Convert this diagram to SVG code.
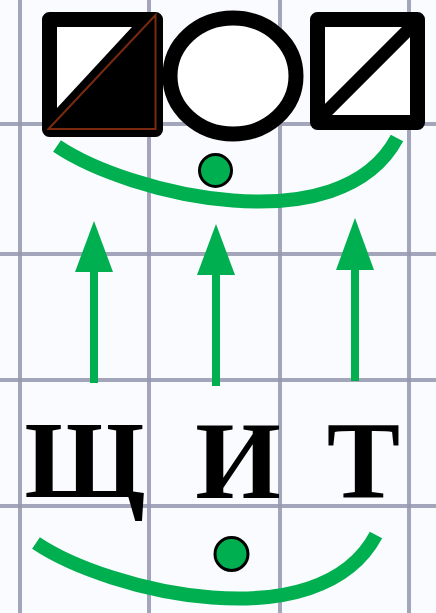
<svg xmlns="http://www.w3.org/2000/svg" width="436" height="613" viewBox="0 0 436 613">
<style>
.grid line{stroke:#9598b0;stroke-width:4;opacity:0.85}
.shape{fill:#fff;stroke:#000;stroke-width:15;stroke-linejoin:round}
.arc{fill:none;stroke:#00b050;stroke-width:14}
.dot{fill:#00b050;stroke:#000;stroke-width:3}
.arrow{fill:#00b050}
.letter{font-family:"Liberation Serif","Times New Roman",serif;font-weight:bold;font-size:110px;fill:#000;text-anchor:middle}
</style>
<rect width="436" height="613" fill="#fafbfe"/>
<g class="grid">
<line x1="20" y1="0" x2="20" y2="613"/>
<line x1="149" y1="0" x2="149" y2="613"/>
<line x1="280" y1="0" x2="280" y2="613"/>
<line x1="409" y1="0" x2="409" y2="613"/>
<line x1="0" y1="124" x2="436" y2="124"/>
<line x1="0" y1="254" x2="436" y2="254"/>
<line x1="0" y1="380" x2="436" y2="380"/>
<line x1="0" y1="506" x2="436" y2="506"/>
</g>
<g id="square-half">
<rect x="49.5" y="19.5" width="106" height="110" class="shape"/>
<polygon points="57,108 132,27 156,27 156,129 57,129" fill="#000"/>
<polygon points="48.5,129 155.5,15 155.5,129" fill="#000" stroke="#7a2a0e" stroke-width="2"/>
</g>
<g id="circle">
<ellipse cx="233" cy="76" rx="63" ry="58" class="shape"/>
</g>
<g id="square-line">
<rect x="317.5" y="19.5" width="100" height="103" class="shape"/>
<line x1="315" y1="123" x2="418" y2="20" stroke="#000" stroke-width="13"/>
</g>
<g id="top-arc">
<path class="arc" d="M57,146 C130,195 340,245 397,138"/>
<circle class="dot" cx="215.5" cy="170.5" r="16"/>
</g>
<g id="connectors">
<g class="arrow">
<rect x="90" y="271" width="8" height="112"/>
<polygon points="94,221 113,272 75,272"/>
<rect x="212" y="274" width="8" height="112"/>
<polygon points="216,224 235,275 197,275"/>
<rect x="351" y="269" width="8" height="112"/>
<polygon points="355,218 374,270 336,270"/>
</g>
</g>
<g id="letter-shch"><text class="letter" x="85" y="498">Щ</text></g>
<g id="letter-i"><text class="letter" x="238" y="498">И</text></g>
<g id="letter-t"><text class="letter" x="363.5" y="498">Т</text></g>
<g id="bottom-arc">
<path class="arc" d="M36,543 C109,592 319,642 376,535"/>
<circle class="dot" cx="231.5" cy="554" r="16.5"/>
</g>
</svg>
